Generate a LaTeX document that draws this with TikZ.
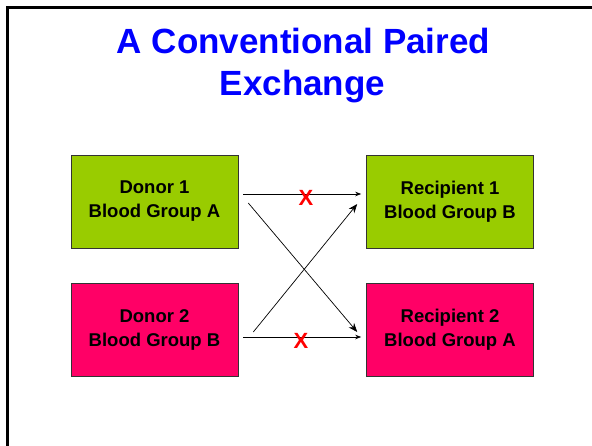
\documentclass[tikz,border=0pt]{standalone}
\usepackage{fontspec}
\setmainfont{Liberation Sans}
\usetikzlibrary{arrows.meta,calc}
\definecolor{boxgreen}{HTML}{99CC00}
\definecolor{boxpink}{HTML}{FF0066}
\definecolor{titleblue}{HTML}{0000FF}
\definecolor{xred}{HTML}{FF0000}
\begin{document}
\begin{tikzpicture}[x=1pt,y=-1pt,
  card/.style={draw=black!80, line width=0.6pt, minimum width=167pt, minimum height=93pt,
    inner sep=0pt, align=center, font=\fontsize{18.5}{24}\selectfont\bfseries},
  arr/.style={draw=black, line width=0.7pt, -{Stealth[length=6pt,width=4.5pt]}},
  bigarr/.style={draw=black, line width=0.7pt, -{Stealth[length=9pt,width=7pt]}},
  titletext/.style={text=titleblue, font=\fontsize{35}{42}\selectfont\bfseries, anchor=base, inner sep=0pt},
  mark x/.style={text=xred, font=\fontsize{22}{22}\selectfont\bfseries, inner sep=0pt}
]
\useasboundingbox (0,0) rectangle (592,445);
\fill[white] (0,0) rectangle (592,445);
\draw[line width=2.4pt, black] (7.5,460) -- (7.5,7.5) -- (600,7.5);

\node[titletext] (title1) at (303.5,53) {A Conventional Paired};
\node[titletext] (title2) at (302.5,95) {Exchange};

\node[card, fill=boxgreen] (d1) at (154.5,201.5) {Donor 1\\Blood Group A};
\node[card, fill=boxpink] (d2) at (154.5,330) {Donor 2\\Blood Group B};
\node[card, fill=boxgreen] (r1) at (450,201.5) {Recipient 1\\Blood Group B};
\node[card, fill=boxpink] (r2) at (450,330) {Recipient 2\\Blood Group A};

\draw[arr] ([xshift=5pt,yshift=7.5pt]d1.east) -- ([xshift=-5pt,yshift=7.5pt]r1.west);
\draw[arr] ([xshift=5pt,yshift=-7pt]d2.east) -- ([xshift=-5pt,yshift=-7pt]r2.west);
\draw[bigarr] ([xshift=10pt,yshift=-1.5pt]d1.east) -- ([xshift=-9pt,yshift=-2pt]r2.west);
\draw[bigarr] ([xshift=15pt,yshift=-2pt]d2.east) -- ([xshift=-9pt,yshift=-2.5pt]r1.west);

\node[mark x] (x1) at (306,198) {X};
\node[mark x] (x2) at (301,341) {X};
\end{tikzpicture}
\end{document}
